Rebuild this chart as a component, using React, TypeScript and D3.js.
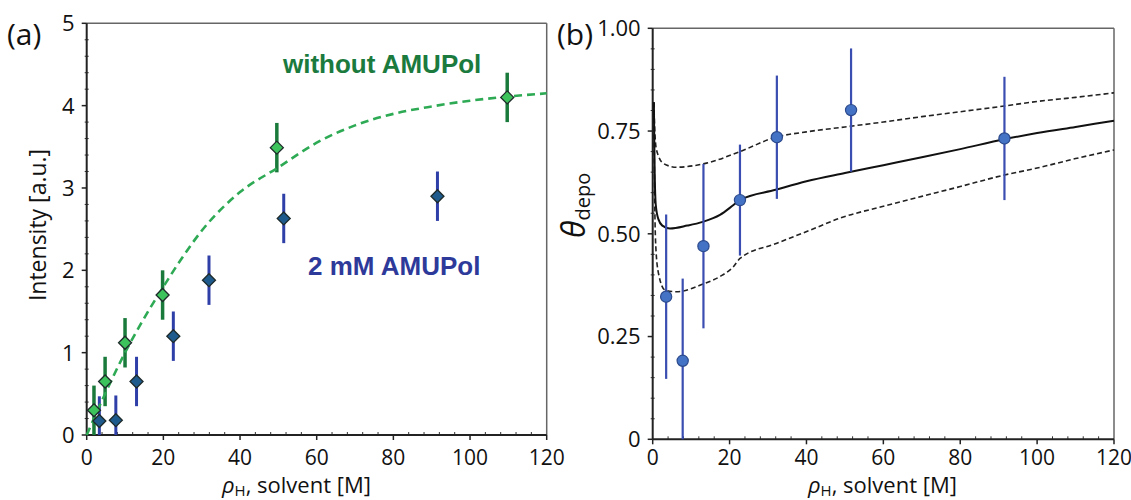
import React from "react";
import * as d3 from "d3";

// ---------- Data ----------
const xTickValues = [0, 20, 40, 60, 80, 100, 120];
const leftYTickValues = [0, 1, 2, 3, 4, 5];
const rightYTickValues = [0, 0.25, 0.5, 0.75, 1.0];
const rightYTickLabels = ["0", "0.25", "0.50", "0.75", "1.00"];

// (a) without AMUPol
const greenX = [1.9, 4.8, 10.0, 19.8, 49.6, 109.7];
const greenY = [0.3, 0.65, 1.12, 1.7, 3.49, 4.1];
const greenErr = [0.3, 0.3, 0.3, 0.3, 0.3, 0.3];

// (a) 2 mM AMUPol
const blueX = [3.3, 7.6, 13.0, 22.6, 31.9, 51.4, 91.5];
const blueY = [0.17, 0.18, 0.65, 1.2, 1.88, 2.63, 2.9];
const blueErr = [0.3, 0.3, 0.3, 0.3, 0.3, 0.3, 0.3];

// (a) dashed fit
const fitX = [0, 5, 10, 15, 20, 25, 30, 40, 50, 60, 70, 80, 90, 100, 110, 120];
const fitY = [0, 0.52, 1.0, 1.42, 1.8, 2.16, 2.48, 2.95, 3.25, 3.55, 3.76, 3.9, 3.99, 4.06, 4.11, 4.15];

// (b) theta_depo
const thetaX = [3.5, 7.8, 13.2, 22.7, 32.3, 51.6, 91.5];
const thetaY = [0.347, 0.191, 0.47, 0.582, 0.735, 0.801, 0.732];
const thetaErr = [0.2, 0.2, 0.2, 0.135, 0.15, 0.15, 0.15];

// (b) model curves
const midX = [0.3, 0.5, 0.8, 1.5, 2.5, 4.5, 9, 13, 17.5, 21, 22.7, 32, 40, 50, 60, 70, 80, 91.5, 100, 110, 120];
const midY = [0.82, 0.66, 0.57, 0.535, 0.52, 0.513, 0.52, 0.529, 0.546, 0.57, 0.582, 0.607, 0.628, 0.648, 0.667, 0.686, 0.706, 0.73, 0.745, 0.76, 0.775];
const upX = [0.3, 0.6, 1.0, 2.8, 6.2, 14, 22.7, 32, 40, 50, 60, 70, 80, 91.5, 100, 110, 120];
const upY = [0.82, 0.74, 0.704, 0.671, 0.662, 0.672, 0.7, 0.735, 0.748, 0.76, 0.772, 0.785, 0.797, 0.811, 0.822, 0.832, 0.843];
const lowX = [0.3, 0.5, 0.8, 1.5, 3.2, 6.1, 13.2, 17.5, 21, 22.7, 32.3, 41, 48.7, 60, 70, 80, 91.5, 100, 110, 120];
const lowY = [0.82, 0.6, 0.47, 0.404, 0.363, 0.359, 0.378, 0.396, 0.42, 0.44, 0.477, 0.509, 0.538, 0.567, 0.591, 0.615, 0.643, 0.66, 0.683, 0.704];

const TICK_FONT = "'Open Sans', 'DejaVu Sans', sans-serif";
const BOLD_FONT = "'Liberation Sans', Arial, sans-serif";

function Frame({ x, y, xMinor, yMinor, yTicks, yLabels }: any) {
  const [x0, x1] = x.range();
  const [y0, y1] = y.range();
  return (
    <g>
      <line x1={x0} x2={x1} y1={y1} y2={y1} stroke="#666" strokeWidth={1.5} />
      <line x1={x1} x2={x1} y1={y1} y2={y0} stroke="#666" strokeWidth={1.5} />
      {xMinor.map((v: number) => (
        <line key={"xm" + v} x1={x(v)} x2={x(v)} y1={y0} y2={y0 - 3} stroke="#333" strokeWidth={1} />
      ))}
      {yMinor.map((v: number) => (
        <line key={"ym" + v} x1={x0 - 2} x2={x0 + 2} y1={y(v)} y2={y(v)} stroke="#333" strokeWidth={1} />
      ))}
      {xTickValues.map((v) => (
        <g key={"xt" + v}>
          <line x1={x(v)} x2={x(v)} y1={y0} y2={y0 + 5} stroke="#222" strokeWidth={1.5} />
          <text x={x(v)} y={465} textAnchor="middle" fontFamily={TICK_FONT} fontSize={21} fill="#111">
            {v}
          </text>
        </g>
      ))}
      {yTicks.map((v: number, i: number) => (
        <g key={"yt" + v}>
          <line x1={x0 - 5} x2={x0} y1={y(v)} y2={y(v)} stroke="#222" strokeWidth={1.5} />
          <text x={x0 - 12} y={y(v)} dy="0.36em" textAnchor="end" fontFamily={TICK_FONT} fontSize={22} fill="#111">
            {yLabels[i]}
          </text>
        </g>
      ))}
      <line x1={x0} x2={x0} y1={y1} y2={y0} stroke="#222" strokeWidth={2} />
      <line x1={x0} x2={x1} y1={y0} y2={y0} stroke="#222" strokeWidth={2} />
    </g>
  );
}

function Diamond({ cx, cy, fill }: any) {
  const r = 6.5;
  return (
    <path
      d={`M${cx},${cy - r}L${cx + r},${cy}L${cx},${cy + r}L${cx - r},${cy}Z`}
      fill={fill}
      stroke="#1e2a2a"
      strokeWidth={1.3}
    />
  );
}

export default function App() {
  const xa = d3.scaleLinear().domain([0, 120]).range([86.7, 546.7]);
  const ya = d3.scaleLinear().domain([0, 5]).range([435, 23.3]);
  const xb = d3.scaleLinear().domain([0, 120]).range([652.7, 1114]);
  const yb = d3.scaleLinear().domain([0, 1]).range([439.3, 28.3]);

  const xMinor = d3.range(0, 121, 4).filter((v) => v % 20 !== 0);
  const yaMinor = d3.range(0, 5.001, 0.2).filter((v) => Math.abs(v - Math.round(v)) > 1e-6);
  const ybMinor = d3.range(0, 1.001, 0.05).filter((v) => Math.abs(v * 4 - Math.round(v * 4)) > 1e-6);

  const fitLine = d3
    .line<number>()
    .x((d, i) => xa(fitX[i]))
    .y((d) => ya(d))
    .curve(d3.curveMonotoneX);

  const lineB = (xs: number[]) =>
    d3
      .line<number>()
      .x((d, i) => xb(xs[i]))
      .y((d) => yb(d))
      .curve(d3.curveMonotoneX);

  return (
    <svg width={1131} height={500} style={{ position: "absolute", left: 0, top: 0, background: "#fff" }}>
      <rect width={1131} height={500} fill="#fff" />

      {/* ---------- Panel (a) ---------- */}
      <Frame x={xa} y={ya} xMinor={xMinor} yMinor={yaMinor} yTicks={leftYTickValues} yLabels={leftYTickValues.map(String)} />

      {blueX.map((v, i) => (
        <line
          key={"be" + i}
          x1={xa(v)}
          x2={xa(v)}
          y1={ya(Math.max(0, blueY[i] - blueErr[i]))}
          y2={ya(blueY[i] + blueErr[i])}
          stroke="#2f3fa8"
          strokeWidth={3}
        />
      ))}
      {greenX.map((v, i) => (
        <line
          key={"ge" + i}
          x1={xa(v)}
          x2={xa(v)}
          y1={ya(Math.max(0, greenY[i] - greenErr[i]))}
          y2={ya(greenY[i] + greenErr[i])}
          stroke="#1a7a3c"
          strokeWidth={3.5}
        />
      ))}

      <path d={fitLine(fitY) || ""} fill="none" stroke="#2eaa55" strokeWidth={2.6} strokeDasharray="8,5" />

      {blueX.map((v, i) => (
        <Diamond key={"bd" + i} cx={xa(v)} cy={ya(blueY[i])} fill="#1e5a8c" />
      ))}
      {greenX.map((v, i) => (
        <Diamond key={"gd" + i} cx={xa(v)} cy={ya(greenY[i])} fill="#3cc35c" />
      ))}

      <text x={283} y={73} fontFamily={BOLD_FONT} fontWeight="bold" fontSize={26} fill="#1b7a3e">
        without AMUPol
      </text>
      <text x={308} y={275} fontFamily={BOLD_FONT} fontWeight="bold" fontSize={26} fill="#2e3a9a">
        2 mM AMUPol
      </text>

      <text x={7} y={45} fontFamily={TICK_FONT} fontSize={30} fill="#111">
        (a)
      </text>
      <text transform="translate(46,225) rotate(-90)" textAnchor="middle" fontFamily={TICK_FONT} fontSize={23} fill="#111">
        Intensity [a.u.]
      </text>
      <text x={222} y={493} fontFamily={TICK_FONT} fontSize={22} fill="#111">
        <tspan fontStyle="italic">ρ</tspan>
        <tspan fontSize={15} dy={3}>H</tspan>
        <tspan dy={-3}>, solvent [M]</tspan>
      </text>

      {/* ---------- Panel (b) ---------- */}
      <Frame x={xb} y={yb} xMinor={xMinor} yMinor={ybMinor} yTicks={rightYTickValues} yLabels={rightYTickLabels} />

      <path d={lineB(upX)(upY) || ""} fill="none" stroke="#222" strokeWidth={1.6} strokeDasharray="5,3" />
      <path d={lineB(lowX)(lowY) || ""} fill="none" stroke="#222" strokeWidth={1.6} strokeDasharray="5,3" />
      <path d={lineB(midX)(midY) || ""} fill="none" stroke="#111" strokeWidth={2} />

      {thetaX.map((v, i) => (
        <line
          key={"te" + i}
          x1={xb(v)}
          x2={xb(v)}
          y1={yb(Math.max(0, thetaY[i] - thetaErr[i]))}
          y2={yb(thetaY[i] + thetaErr[i])}
          stroke="#3a4db0"
          strokeWidth={2.2}
        />
      ))}
      {thetaX.map((v, i) => (
        <circle key={"tc" + i} cx={xb(v)} cy={yb(thetaY[i])} r={5.6} fill="#4472c4" stroke="#2c4a8c" strokeWidth={1.2} />
      ))}

      <text x={557} y={45} fontFamily={TICK_FONT} fontSize={30} fill="#111">
        (b)
      </text>
      <text transform="translate(585,238) rotate(-90)" fontFamily={TICK_FONT} fill="#111">
        <tspan fontStyle="italic" fontSize={32}>θ</tspan>
        <tspan fontSize={20} dy={5}>depo</tspan>
      </text>
      <text x={808} y={493} fontFamily={TICK_FONT} fontSize={22} fill="#111">
        <tspan fontStyle="italic">ρ</tspan>
        <tspan fontSize={15} dy={3}>H</tspan>
        <tspan dy={-3}>, solvent [M]</tspan>
      </text>
    </svg>
  );
}
